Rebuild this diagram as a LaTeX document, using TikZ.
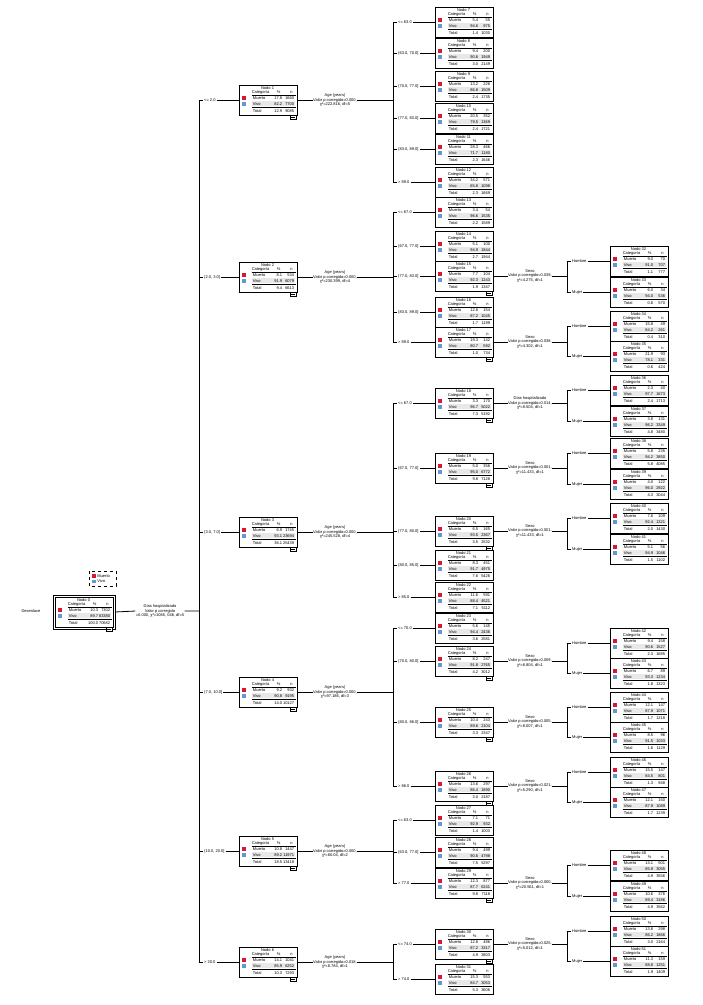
\documentclass[tikz,border=0pt]{standalone}
\usepackage{fontspec}
\setmainfont{Liberation Sans}
\begin{document}
\definecolor{mred}{RGB}{214,24,52}
\definecolor{mblue}{RGB}{100,150,210}
\definecolor{vbg}{RGB}{232,232,232}
\begin{tikzpicture}[x=1pt,y=-1pt,line width=0.8pt,
  tx/.style={inner sep=0pt,font=\fontsize{4}{4.6}\selectfont},
  el/.style={tx,inner sep=0.8pt,fill=white},
  box/.style={draw,line width=0.9pt,minimum width=58pt,minimum height=30pt,inner sep=0pt}]
\useasboundingbox (0,0) rectangle (703,1005);
\newcommand\tnode[9]{%
 \node[box] (n#1) at (#2,#3) {};
 \begin{scope}[shift={(n#1.north west)}]
  \fill[vbg] (13,16.8) rectangle (56,21.6);
  \node[tx] at (29,3.6) {Nodo #1};
  \node[tx] at (22,8) {Categoría}; \node[tx] at (40,8) {\%}; \node[tx] at (53,8) {n};
  \draw[line width=0.7pt] (13,10.6) -- (57,10.6);
  \fill[mred] (3,11.8) rectangle (7,15.6);
  \node[tx,anchor=west] at (14,13.8) {Muerto}; \node[tx,anchor=east] at (44,13.8) {#4}; \node[tx,anchor=east] at (56,13.8) {#5};
  \fill[mblue] (3,17.2) rectangle (7,21);
  \node[tx,anchor=west] at (14,19.3) {Vivo}; \node[tx,anchor=east] at (44,19.3) {#6}; \node[tx,anchor=east] at (56,19.3) {#7};
  \draw[line width=0.7pt] (13,22.6) -- (57,22.6);
  \node[tx,anchor=west] at (14,26.4) {Total}; \node[tx,anchor=east] at (44,26.4) {#8}; \node[tx,anchor=east] at (56,26.4) {#9};
 \end{scope}}
\newcommand\expmark[1]{%
 \draw[line width=0.5pt,fill=white] ([xshift=-7pt]n#1.south east) rectangle ([xshift=-1pt,yshift=-4pt]n#1.south east);
 \draw[line width=0.4pt] ([xshift=-6pt,yshift=-2pt]n#1.south east) -- ([xshift=-2pt,yshift=-2pt]n#1.south east);}
\newcommand\kid[5]{\node[el,anchor=west] (e#4) at (#2,#3) {#5};
 \draw (#1,#3) -- (e#4.west) (e#4.east) -- (n#4.west);}
\newcommand\split[4]{\node[tx,align=center] (s#1) at (#2,#3) {#4};
 \draw (n#1.east) -- (s#1.west);}

% root
\node[tx] (des) at (31,611) {Desenlace};
\draw[dashed,line width=0.6pt] (89,571) rectangle (116,586);
\fill[mred] (92,574) rectangle (95.5,577.5); \node[tx,anchor=west] (lm) at (97,575.8) {Muerto};
\fill[mblue] (92,579.5) rectangle (95.5,583); \node[tx,anchor=west] (lv) at (97,581.3) {Vivo};
\tnode{0}{84}{612}{10.3}{7302}{89.7}{63380}{100.0}{70682}
\draw[line width=0.9pt] ([shift={(-1.5pt,1.5pt)}]n0.north west) rectangle ([shift={(1.5pt,-1.5pt)}]n0.south east);
\expmark{0}
\node[tx,align=center] (s0) at (160,611) {Días hospitalizado\\Valor p corregido\\=0.000, χ²=1065, 046, df=5};
\draw ([xshift=1.5pt]n0.east) -- (s0.west) (s0.east) -- (199,611);
\draw (199,100) -- (199,962);

% column 1
\tnode{1}{268}{100}{17.8}{1660}{82.2}{7700}{12.9}{9085}
\tnode{2}{268}{277}{8.1}{534}{91.9}{6079}{9.4}{6613}
\tnode{3}{268}{532}{6.9}{1745}{93.1}{23694}{36.1}{25439}
\tnode{4}{268}{692}{9.2}{932}{90.8}{9195}{14.0}{10127}
\tnode{5}{268}{851}{10.8}{1447}{89.2}{11971}{18.5}{13418}
\tnode{6}{268}{962}{14.1}{1041}{85.9}{6252}{10.3}{7293}
\foreach \i in {1,...,6} {\expmark{\i}}
\kid{199}{203}{100}{1}{<= 2.0}
\kid{199}{203}{277}{2}{(2.0, 3.0]}
\kid{199}{203}{532}{3}{(3.0, 7.0]}
\kid{199}{203}{692}{4}{(7.0, 10.0]}
\kid{199}{203}{851}{5}{(10.0, 20.0]}
\kid{199}{203}{962}{6}{> 20.0}
\split{1}{335}{100}{Age (years)\\Valor p corregido=0.000,\\χ²=222.816, df=5}
\split{2}{335}{277}{Age (years)\\Valor p corregido=0.000,\\χ²=230.399, df=4}
\split{3}{335}{532}{Age (years)\\Valor p corregido=0.000,\\χ²=245.528, df=4}
\split{4}{335}{692}{Age (years)\\Valor p corregido=0.000,\\χ²=97.186, df=3}
\split{5}{335}{851}{Age (years)\\Valor p corregido=0.000,\\χ²=60.04, df=2}
\split{6}{335}{962}{Age (years)\\Valor p corregido=0.018,\\χ²=8.784, df=1}
\foreach \i/\y in {1/100,2/277,3/532,4/692,5/851,6/962} {\draw (s\i.east) -- (393,\y);}
\draw (393,22) -- (393,182) (393,212) -- (393,342) (393,403) -- (393,597)
      (393,628) -- (393,786) (393,820) -- (393,883) (393,944) -- (393,979);

% column 2
\tnode{7}{464}{22}{5.4}{55}{94.6}{975}{1.4}{1030}
\tnode{8}{464}{53}{9.4}{200}{90.6}{1949}{3.0}{2149}
\tnode{9}{464}{86}{13.2}{226}{86.8}{1509}{2.4}{1735}
\tnode{10}{464}{118}{20.5}{352}{79.5}{1369}{2.4}{1721}
\tnode{11}{464}{149}{28.3}{466}{71.7}{1180}{2.3}{1646}
\tnode{12}{464}{182}{34.2}{571}{65.8}{1098}{2.3}{1669}
\tnode{13}{464}{212}{3.4}{54}{96.6}{1535}{2.2}{1589}
\tnode{14}{464}{246}{5.1}{100}{94.9}{1844}{2.7}{1944}
\tnode{15}{464}{276}{7.7}{104}{92.3}{1243}{1.9}{1347}
\tnode{16}{464}{312}{12.8}{154}{87.2}{1045}{1.7}{1199}
\tnode{17}{464}{342}{19.3}{142}{80.7}{592}{1.0}{734}
\tnode{18}{464}{403}{3.3}{170}{96.7}{5022}{7.3}{5192}
\tnode{19}{464}{468}{5.0}{356}{95.0}{6772}{9.8}{7128}
\tnode{20}{464}{531}{6.5}{165}{93.5}{2367}{3.5}{2532}
\tnode{21}{464}{565}{8.3}{451}{91.7}{4975}{7.6}{5426}
\tnode{22}{464}{597}{11.6}{591}{88.4}{4521}{7.1}{5112}
\tnode{23}{464}{628}{5.6}{145}{94.4}{2436}{3.6}{2581}
\tnode{24}{464}{661}{8.2}{247}{91.8}{2765}{4.2}{3012}
\tnode{25}{464}{722}{10.4}{243}{89.6}{2104}{3.3}{2347}
\tnode{26}{464}{786}{13.6}{297}{86.4}{1890}{3.0}{2187}
\tnode{27}{464}{820}{7.1}{71}{92.9}{932}{1.4}{1003}
\tnode{28}{464}{852}{9.4}{499}{90.6}{4798}{7.5}{5297}
\tnode{29}{464}{883}{12.3}{877}{87.7}{6241}{9.8}{7118}
\tnode{30}{464}{944}{12.8}{486}{87.2}{3317}{4.9}{3803}
\tnode{31}{464}{979}{15.3}{553}{84.7}{3053}{5.3}{3606}
\foreach \i in {15,17,18,19,20,24,25,26,29,30} {\expmark{\i}}
\kid{393}{397}{22}{7}{<= 63.0}
\kid{393}{397}{53}{8}{(63.0, 70.0]}
\kid{393}{397}{86}{9}{(70.0, 77.0]}
\kid{393}{397}{118}{10}{(77.0, 83.0]}
\kid{393}{397}{149}{11}{(83.0, 89.0]}
\kid{393}{397}{182}{12}{> 89.0}
\kid{393}{397}{212}{13}{<= 67.0}
\kid{393}{397}{246}{14}{(67.0, 77.0]}
\kid{393}{397}{276}{15}{(77.0, 83.0]}
\kid{393}{397}{312}{16}{(83.0, 89.0]}
\kid{393}{397}{342}{17}{> 89.0}
\kid{393}{397}{403}{18}{<= 67.0}
\kid{393}{397}{468}{19}{(67.0, 77.0]}
\kid{393}{397}{531}{20}{(77.0, 80.0]}
\kid{393}{397}{565}{21}{(80.0, 85.0]}
\kid{393}{397}{597}{22}{> 85.0}
\kid{393}{397}{628}{23}{<= 70.0}
\kid{393}{397}{661}{24}{(70.0, 80.0]}
\kid{393}{397}{722}{25}{(80.0, 86.0]}
\kid{393}{397}{786}{26}{> 86.0}
\kid{393}{397}{820}{27}{<= 63.0}
\kid{393}{397}{852}{28}{(63.0, 77.0]}
\kid{393}{397}{883}{29}{> 77.0}
\kid{393}{397}{944}{30}{<= 74.0}
\kid{393}{397}{979}{31}{> 74.0}
\split{15}{530}{276}{Sexo\\Valor p corregido=0.039,\\χ²=4.275, df=1}
\split{17}{530}{342}{Sexo\\Valor p corregido=0.038,\\χ²=4.302, df=1}
\split{18}{530}{403}{Días hospitalizado\\Valor p corregido=0.014,\\χ²=8.504, df=1}
\split{19}{530}{468}{Sexo\\Valor p corregido=0.001,\\χ²=11.433, df=1}
\split{20}{530}{531}{Sexo\\Valor p corregido=0.001,\\χ²=11.433, df=1}
\split{24}{530}{661}{Sexo\\Valor p corregido=0.009,\\χ²=6.804, df=1}
\split{25}{530}{722}{Sexo\\Valor p corregido=0.005,\\χ²=8.007, df=1}
\split{26}{530}{786}{Sexo\\Valor p corregido=0.021,\\χ²=5.290, df=1}
\split{29}{530}{883}{Sexo\\Valor p corregido=0.000,\\χ²=20.561, df=1}
\split{30}{530}{944}{Sexo\\Valor p corregido=0.025,\\χ²=5.012, df=1}
\foreach \i/\y in {15/276,17/342,18/403,19/468,20/531,24/661,25/722,26/786,29/883,30/944} {\draw (s\i.east) -- (567,\y);}

% column 3
\tnode{32}{639}{261}{9.0}{70}{91.0}{707}{1.1}{777}
\tnode{33}{639}{292}{6.0}{34}{94.0}{536}{0.8}{570}
\tnode{34}{639}{326}{15.8}{49}{84.2}{261}{0.4}{310}
\tnode{35}{639}{356}{21.9}{93}{78.1}{331}{0.6}{424}
\tnode{36}{639}{390}{2.3}{40}{97.7}{1673}{2.4}{1713}
\tnode{37}{639}{421}{3.8}{131}{96.2}{3349}{4.8}{3480}
\tnode{38}{639}{453}{5.8}{235}{94.2}{3850}{5.8}{4085}
\tnode{39}{639}{484}{4.0}{122}{96.0}{2922}{4.3}{3044}
\tnode{40}{639}{518}{7.6}{109}{92.4}{1321}{2.0}{1430}
\tnode{41}{639}{549}{5.1}{56}{94.9}{1046}{1.5}{1102}
\tnode{42}{639}{643}{9.4}{158}{90.6}{1527}{2.3}{1685}
\tnode{43}{639}{673}{6.7}{89}{93.3}{1234}{1.8}{1323}
\tnode{44}{639}{707}{12.1}{147}{87.9}{1071}{1.7}{1218}
\tnode{45}{639}{737}{8.5}{96}{91.5}{1033}{1.6}{1129}
\tnode{46}{639}{772}{15.5}{147}{84.5}{801}{1.3}{948}
\tnode{47}{639}{802}{12.1}{150}{87.9}{1089}{1.7}{1239}
\tnode{48}{639}{865}{14.1}{501}{85.9}{3055}{4.9}{3556}
\tnode{49}{639}{896}{10.6}{376}{89.4}{3186}{4.9}{3562}
\tnode{50}{639}{931}{13.8}{298}{86.2}{1866}{3.0}{2164}
\tnode{51}{639}{961}{11.3}{159}{88.8}{1251}{1.9}{1409}
\foreach \a/\b/\ya/\yb in {32/33/261/292,34/35/326/356,36/37/390/421,38/39/453/484,40/41/518/549,42/43/643/673,44/45/707/737,46/47/772/802,48/49/865/896,50/51/931/961} {
  \draw (567,\ya) -- (567,\yb);
  \kid{567}{571}{\ya}{\a}{Hombre}
  \kid{567}{571}{\yb}{\b}{Mujer}
}
\end{tikzpicture}
\end{document}
